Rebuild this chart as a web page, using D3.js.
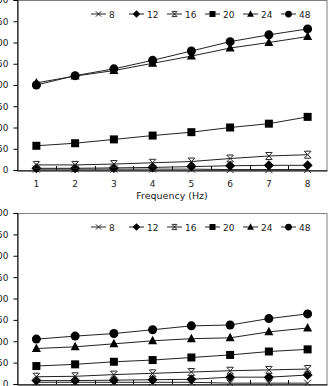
<!DOCTYPE html>
<html><head><meta charset="utf-8">
<script src="https://cdn.jsdelivr.net/npm/d3@7"></script>
<style>body{margin:0;background:#fff}svg{display:block;font-family:"DejaVu Sans",sans-serif}</style>
</head><body><svg id="c" width="330" height="386"></svg>
<script>
const categories = [1,2,3,4,5,6,7,8];
const seriesNames = ["8","12","16","20","24","48"];
const markers = ["x","diamond","star","square","triangle","circle"];
const yTicks = [0,50,100,150,200,250,300,350,400];
const xTitle = "Frequency (Hz)";
// top chart values
const top8  = [2,2,2,2,2,1,1,1];
const top12 = [4,4,5,6,8,10,11,11];
const top16 = [12,12,14,17,20,27,33,36];
const top20 = [57,63,72,81,89,100,109,125];
const top24 = [205,221,234,251,268,287,300,314];
const top48 = [200,222,238,258,280,302,318,332];
// bottom chart values
const bot8  = [4,4,4,4,4,2,2,2];
const bot12 = [8,8,9,10,11,16,16,21];
const bot16 = [17,18,22,25,28,31,33,35];
const bot20 = [42,46,52,56,62,68,76,81];
const bot24 = [83,87,94,101,106,108,122,131];
const bot48 = [105,112,118,127,136,138,153,164];

const FONT = "DejaVu Sans, sans-serif";
const svg = d3.select("#c");

function marker(g, type, x, y, s) {
  const k = s || 1;
  if (type === "circle") g.append("circle").attr("cx",x).attr("cy",y).attr("r",4.5*k).attr("fill","#000");
  else if (type === "square") g.append("rect").attr("x",x-4*k).attr("y",y-4*k).attr("width",8*k).attr("height",8*k).attr("fill","#000");
  else if (type === "triangle") g.append("path").attr("d",`M${x},${y-5*k}L${x+4.5*k},${y+3.5*k}L${x-4.5*k},${y+3.5*k}Z`).attr("fill","#000");
  else if (type === "diamond") g.append("path").attr("d",`M${x},${y-5*k}L${x+5*k},${y}L${x},${y+5*k}L${x-5*k},${y}Z`).attr("fill","#000");
  else if (type === "x") g.append("path").attr("d",`M${x-3.5*k},${y-3.5*k}L${x+3.5*k},${y+3.5*k}M${x+3.5*k},${y-3.5*k}L${x-3.5*k},${y+3.5*k}`).attr("stroke","#222").attr("stroke-width",1).attr("fill","none");
  else if (type === "star") g.append("path").attr("d",`M${x-3.5*k},${y-3.5*k}L${x+3.5*k},${y+3.5*k}M${x+3.5*k},${y-3.5*k}L${x-3.5*k},${y+3.5*k}M${x-3*k},${y-3.5*k}L${x+3*k},${y-3.5*k}M${x-3*k},${y+3.5*k}L${x+3*k},${y+3.5*k}`).attr("stroke","#222").attr("stroke-width",1).attr("fill","none");
}

function chart(top, bottom, data, showX) {
  const left = 17, right = 327;
  const x = d3.scaleBand().domain(categories).range([left, right]);
  const y = d3.scaleLinear().domain([0,400]).range([bottom, top]);
  const g = svg.append("g");
  g.append("rect").attr("x",left+0.5).attr("y",top+0.5).attr("width",right-left-0.5).attr("height",bottom-top)
    .attr("fill","none").attr("stroke","#7f7f7f");
  const ya = g.append("g").attr("transform",`translate(${left+0.5},0)`)
    .call(d3.axisLeft(y).tickValues(yTicks).tickSize(4).tickPadding(5));
  ya.select(".domain").attr("stroke","#000");
  ya.selectAll("text").attr("font-size",9).attr("fill","#222").attr("font-family",FONT);
  const xa = g.append("g").attr("transform",`translate(0,${bottom+0.5})`)
    .call(d3.axisBottom(x).tickSize(0).tickPadding(10));
  xa.select(".domain").attr("stroke","#000");
  xa.selectAll("text").attr("font-size",9).attr("fill","#222").attr("font-family",FONT);
  if (!showX) xa.selectAll("text").remove();
  categories.slice(1).forEach(c => {
    const bx = Math.round(x(c)) + 0.5;
    g.append("line").attr("x1",bx).attr("x2",bx).attr("y1",bottom).attr("y2",bottom-4).attr("stroke","#000");
  });
  if (showX) {
    g.append("text").attr("x",(left+right)/2).attr("y",bottom+29).attr("text-anchor","middle")
      .attr("font-size",9.5).attr("fill","#222").text(xTitle);
  }
  const line = d3.line().x((d,i)=>x(categories[i])+x.bandwidth()/2).y(d=>y(d));
  data.forEach((vals, si) => {
    g.append("path").attr("d", line(vals)).attr("fill","none").attr("stroke","#222").attr("stroke-width",1);
    vals.forEach((v,i) => marker(g, markers[si], x(categories[i])+x.bandwidth()/2, y(v), 1));
  });
  const ly = top + 14;
  seriesNames.forEach((n, i) => {
    const x0 = 91 + 38*i;
    g.append("line").attr("x1",x0).attr("x2",x0+15).attr("y1",ly).attr("y2",ly).attr("stroke","#222");
    marker(g, markers[i], x0+7.5, ly, 0.75);
    g.append("text").attr("x",x0+18).attr("y",ly+3.5).attr("font-size",9).attr("fill","#222").text(n);
  });
}

chart(0, 170, [top8,top12,top16,top20,top24,top48], true);
chart(213, 384, [bot8,bot12,bot16,bot20,bot24,bot48], false);
</script></body></html>
